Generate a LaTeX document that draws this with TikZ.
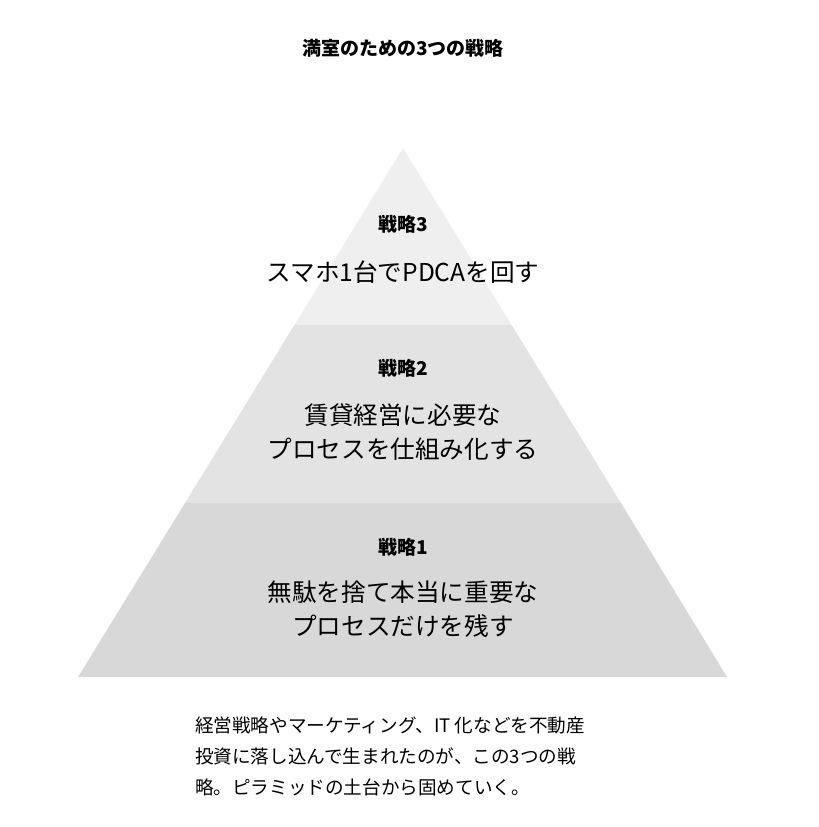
\documentclass[tikz,border=0pt]{standalone}
\usepackage{fontspec}
\setmainfont{Noto Sans CJK JP}
\newfontfamily\jpbold{Noto Sans CJK JP}[FakeBold=0]
\usetikzlibrary{positioning}
\tikzset{
  px/.style={x=0.5pt,y=-0.5pt},
  head/.style={font=\fontsize{9.5}{11}\selectfont\bfseries},
  body/.style={font=\fontsize{12.3}{17}\selectfont,align=center},
  note/.style={font=\fontsize{9.3}{15.5}\selectfont,align=left}
}
\definecolor{bandA}{HTML}{EFEFEF}
\definecolor{bandB}{HTML}{E3E3E3}
\definecolor{bandC}{HTML}{D8D8D8}
\begin{document}
\begin{tikzpicture}[px]
\useasboundingbox (0,0) rectangle (819,827);

% pyramid bands
\fill[bandA] (403,148) -- (511.6,325) -- (294.4,325) -- cycle;
\fill[bandB] (294.4,325) -- (511.6,325) -- (621,503) -- (185,503) -- cycle;
\fill[bandC] (185,503) -- (621,503) -- (727,677) -- (78,677) -- cycle;

% title
\node (title) at (403,48) [head] {満室のための3つの戦略};

% strategy 3
\node (s3) at (403,224) [head] {戦略3};
\node (t3) at (403,272) [body] {スマホ1台でPDCAを回す};
% strategy 2
\node (s2) at (403,368) [head] {戦略2};
\node (t2) at (403,432) [body] {賃貸経営に必要な\\プロセスを仕組み化する};
% strategy 1
\node (s1) at (403,547) [head] {戦略1};
\node (t1) at (403,609) [body] {無駄を捨て本当に重要な\\プロセスだけを残す};

% caption
\node (note) at (188,756) [note,anchor=west] {経営戦略やマーケティング、IT 化などを不動産\\投資に落し込んで生まれたのが、この3つの戦\\略。ピラミッドの土台から固めていく。};
\end{tikzpicture}
\end{document}
